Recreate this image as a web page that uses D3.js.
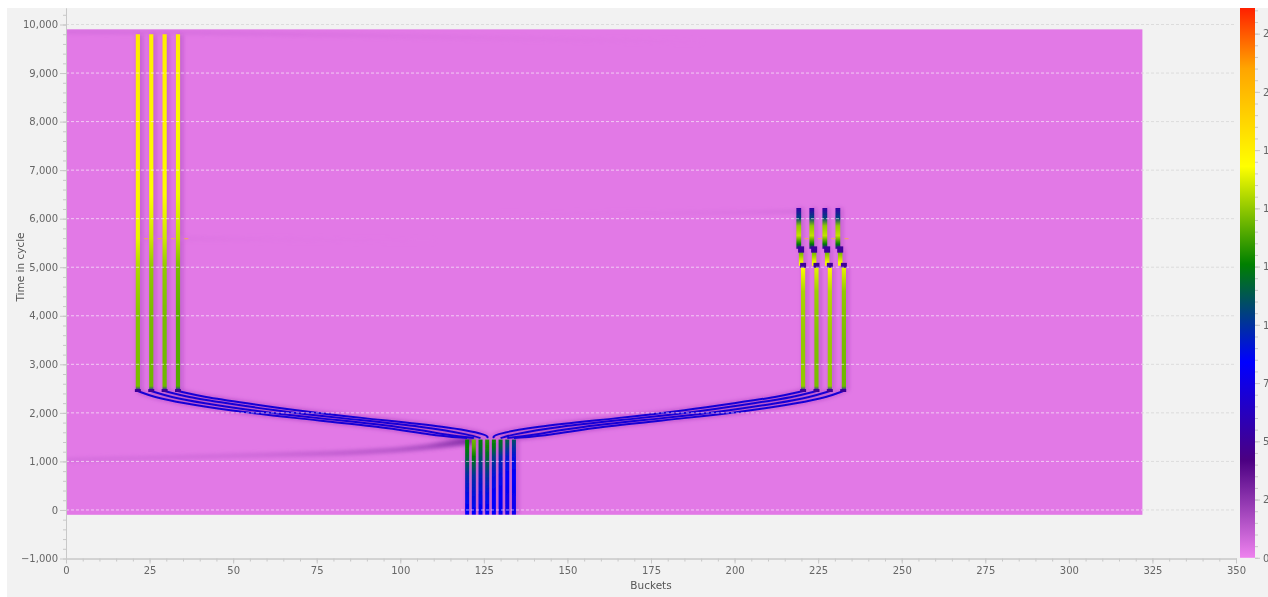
<!DOCTYPE html>
<html>
<head>
	<meta charset="utf-8">

	<!-- Load d3.js -->
	<script src="https://cdn.jsdelivr.net/npm/d3@7"></script>
	<style>
		html, body { margin: 0; padding: 0; background: #fff; overflow: hidden; }
		svg { display: block; filter: blur(0.35px); }
		text { font-family: "DejaVu Sans", sans-serif; }
	</style>
</head>
<body>

	<!-- Create a div where the graph will take place -->
	<div id="graph"></div>

<script>

// colour ramp of the bar on the right
var rampValues = [0, 42, 84, 126, 168, 210, 252];
var rampColors = ["#ee82ee", "#4b0082", "#0000ff", "#008000", "#ffff00", "#ffa500", "#ff2000"];
var backgroundValue = 3;

// extent of the heat map
var heatBuckets = [0, 322];
var heatTimes = [-100, 9900];

// bunches before the split
var centralBuckets = [120, 122, 124, 126, 128, 130, 132, 134];
var centralTimes = [-100, 300, 700, 1100, 1300, 1450];
var centralValues = [
  [84, 88, 98, 118, 126, 126],
  [84, 90, 100, 125, 140, 145],
  [84, 88, 95, 110, 120, 125],
  [84, 88, 100, 118, 128, 132],
  [82, 84, 90, 105, 122, 128],
  [80, 84, 88, 98, 115, 122],
  [78, 80, 84, 92, 105, 115],
  [78, 80, 84, 90, 100, 110]
];

// ramps from the central bunches out to the two stores
var rampTimes = [1480, 1545, 1710, 1895, 2060, 2200, 2330, 2450];
var leftRampBuckets = [
  [120, 109, 95, 68, 48, 35, 26, 21.5],
  [122, 114, 101, 74.5, 54.5, 41, 31, 25.5],
  [124, 121, 108, 81.5, 61.5, 48, 36, 29.5],
  [126, 126.5, 115, 88, 68, 54, 41, 33.5]
];
var rightRampBuckets = [
  [128, 127.5, 139, 166, 186, 200, 213, 220.5],
  [130, 133, 146, 172.5, 192.5, 206, 218, 224.5],
  [132, 140, 153, 179.5, 199.5, 213, 223, 228.5],
  [134, 145, 159, 186, 206, 219, 228, 232.5]
];
var rampValue = 70;

// left store, up to the end of the cycle
var leftBuckets = [21.5, 25.5, 29.5, 33.5];
var leftTimes = [2450, 2550, 4000, 5000, 5600, 6500, 8000, 9800];
var leftValues = [
  [70, 146, 148, 155, 165, 172, 175, 177],
  [70, 144, 146, 150, 160, 168, 172, 175],
  [70, 144, 146, 150, 160, 170, 173, 176],
  [70, 140, 141, 146, 158, 166, 171, 176]
];

// right store, three steps
var rightLowBuckets = [220.5, 224.5, 228.5, 232.7];
var rightLowTimes = [2450, 2550, 3500, 4500, 5000];
var rightLowValues = [
  [70, 150, 150, 154, 168],
  [70, 146, 147, 152, 164],
  [70, 150, 151, 156, 170],
  [70, 144, 146, 150, 164]
];
var rightMidBuckets = [219.9, 223.8, 227.7, 231.6];
var rightMidTimes = [5030, 5100, 5300, 5380];
var rightMidValues = [170, 166, 145, 70];
var rightTopBuckets = [219.2, 223.1, 227.0, 230.9];
var rightTopTimes = [5380, 5480, 5650, 5850, 6020, 6220];
var rightTopValues = [55, 125, 158, 150, 105, 55];

// darker stubs where the bunches land
var stubTimes = [[2430, 2490], [4990, 5090], [5300, 5430]];
var stubBuckets = [
  [21.5, 25.5, 29.5, 33.5, 220.5, 224.5, 228.5, 232.5],
  [220.5, 224.5, 228.5, 232.7],
  [219.9, 223.8, 227.7, 231.6]
];
var stubValue = 50;

// faint wakes in the background
var wakeBuckets = [0, 58, 88, 108, 118, 122];
var wakeCenter = [1030, 1130, 1190, 1300, 1400, 1440];
var wakeHalf = [25, 30, 38, 50, 70, 80];
var wakeValue = [9, 12, 16, 20, 26, 30];

var streakTop = { buckets: [0, 40, 100, 190], times: [9850, 9830, 9760, 9640], values: [10, 9, 6, 3] };
var streakRight = { buckets: [130, 170, 205, 220], times: [6090, 6110, 6130, 6150], values: [3, 4, 7, 10] };
var streakLeft = { buckets: [21, 36, 60, 110], times: [5590, 5590, 5575, 5540], values: [7, 6, 4, 3] };

// small pale dashes crossing both stores
var crossTime = 5590;
var crossBuckets = [24, 28, 32, 36, 221.5, 225.5, 229.5, 233.5];

// axis ticks
var bucketTicks = d3.range(0, 351, 25);
var bucketMinor = d3.range(0, 351, 5);
var timeTicks = d3.range(-1000, 10001, 1000);
var timeMinor = d3.range(-1000, 10301, 200);
var colorTicks = d3.range(0, 226, 25);
var colorMinor = d3.range(0, 236, 5);

var svg = d3.select("#graph")
  .append("svg")
    .attr("width", 1268)
    .attr("height", 597);

var defs = svg.append("defs");

var x = d3.scaleLinear().domain([0, 350]).range([66, 1236]);
var y = d3.scaleLinear().domain([-1000, 10340]).range([558.5, 8]);
var cy = d3.scaleLinear().domain([0, 236]).range([557.8, 8]);
var color = d3.scaleLinear().domain(rampValues).range(rampColors);

// soft edge for the marks
defs.append("filter").attr("id", "soft")
    .attr("filterUnits", "userSpaceOnUse")
    .attr("x", 0).attr("y", 0).attr("width", 1268).attr("height", 597)
  .append("feGaussianBlur").attr("stdDeviation", 0.5);
defs.append("filter").attr("id", "glow")
    .attr("filterUnits", "userSpaceOnUse")
    .attr("x", 0).attr("y", 0).attr("width", 1268).attr("height", 597)
  .append("feGaussianBlur").attr("stdDeviation", 2.2);
defs.append("clipPath").attr("id", "heatClip")
  .append("rect")
    .attr("x", x(heatBuckets[0]))
    .attr("y", y(heatTimes[1]))
    .attr("width", x(heatBuckets[1]) - x(heatBuckets[0]))
    .attr("height", y(heatTimes[0]) - y(heatTimes[1]));

// grey panel
svg.append("rect")
    .attr("x", 7).attr("y", 8)
    .attr("width", 1261).attr("height", 589)
    .attr("fill", "#f2f2f2");

// grid below the map
svg.append("g").selectAll("line")
  .data(timeTicks.slice(1))
  .enter().append("line")
    .attr("x1", x(0)).attr("x2", x(350))
    .attr("y1", function(d) { return y(d); })
    .attr("y2", function(d) { return y(d); })
    .attr("stroke", "#dcdcdc")
    .attr("stroke-dasharray", "3,2");

// background of the map
svg.append("rect")
    .attr("x", x(heatBuckets[0]))
    .attr("y", y(heatTimes[1]))
    .attr("width", x(heatBuckets[1]) - x(heatBuckets[0]))
    .attr("height", y(heatTimes[0]) - y(heatTimes[1]))
    .attr("fill", color(backgroundValue));

var marks = svg.append("g").attr("clip-path", "url(#heatClip)");
var halos = marks.append("g").attr("filter", "url(#glow)");
var wakes = marks.append("g").attr("filter", "url(#glow)");
var tracks = marks.append("g").attr("filter", "url(#soft)");

var gradId = 0;

// vertical gradient following the values of one track
function verticalGradient(times, values) {
  var id = "g" + (gradId++);
  var t0 = times[0], t1 = times[times.length - 1];
  var g = defs.append("linearGradient").attr("id", id)
      .attr("gradientUnits", "userSpaceOnUse")
      .attr("x1", 0).attr("x2", 0)
      .attr("y1", y(t0)).attr("y2", y(t1));
  times.forEach(function(t, i) {
    g.append("stop")
      .attr("offset", (t - t0) / (t1 - t0))
      .attr("stop-color", color(values[i]));
  });
  return "url(#" + id + ")";
}

// horizontal gradient along a wake
function horizontalGradient(buckets, values) {
  var id = "g" + (gradId++);
  var b0 = buckets[0], b1 = buckets[buckets.length - 1];
  var g = defs.append("linearGradient").attr("id", id)
      .attr("gradientUnits", "userSpaceOnUse")
      .attr("y1", 0).attr("y2", 0)
      .attr("x1", x(b0)).attr("x2", x(b1));
  buckets.forEach(function(b, i) {
    g.append("stop")
      .attr("offset", (b - b0) / (b1 - b0))
      .attr("stop-color", color(values[i]));
  });
  return "url(#" + id + ")";
}

// one straight column from bucket b between two times
function column(b, times, values, width) {
  halos.append("line")
      .attr("x1", x(b) + 2).attr("x2", x(b) + 2)
      .attr("y1", y(times[0])).attr("y2", y(times[times.length - 1]))
      .attr("stroke", color(32))
      .attr("stroke-opacity", 0.28)
      .attr("stroke-width", 6);
  tracks.append("line")
      .attr("x1", x(b)).attr("x2", x(b))
      .attr("y1", y(times[0])).attr("y2", y(times[times.length - 1]))
      .attr("stroke", verticalGradient(times, values))
      .attr("stroke-width", width);
}

centralBuckets.forEach(function(b, i) { column(b, centralTimes, centralValues[i], 4); });
leftBuckets.forEach(function(b, i) { column(b, leftTimes, leftValues[i], 4.2); });
rightLowBuckets.forEach(function(b, i) { column(b, rightLowTimes, rightLowValues[i], 4.2); });
rightMidBuckets.forEach(function(b) { column(b, rightMidTimes, rightMidValues, 4.5); });
rightTopBuckets.forEach(function(b) { column(b, rightTopTimes, rightTopValues, 4.8); });

// ramps
var rampLine = d3.line()
    .x(function(d) { return x(d[0]); })
    .y(function(d) { return y(d[1]); })
    .curve(d3.curveBasis);

leftRampBuckets.concat(rightRampBuckets).forEach(function(buckets) {
  var points = buckets.map(function(b, i) { return [b, rampTimes[i]]; });
  halos.append("path")
      .attr("d", rampLine(points))
      .attr("fill", "none")
      .attr("stroke", color(32))
      .attr("stroke-opacity", 0.3)
      .attr("stroke-width", 4);
  tracks.append("path")
      .attr("d", rampLine(points))
      .attr("fill", "none")
      .attr("stroke", color(rampValue))
      .attr("stroke-width", 2);
});

// stubs
stubTimes.forEach(function(times, i) {
  stubBuckets[i].forEach(function(b) {
    tracks.append("line")
        .attr("x1", x(b)).attr("x2", x(b))
        .attr("y1", y(times[0])).attr("y2", y(times[1]))
        .attr("stroke", color(stubValue))
        .attr("stroke-width", 6);
  });
});

// wake from the injection
var wakeArea = d3.area()
    .x(function(d) { return x(d.b); })
    .y0(function(d) { return y(d.c - d.h); })
    .y1(function(d) { return y(d.c + d.h); })
    .curve(d3.curveMonotoneX);

wakes.append("path")
    .attr("d", wakeArea(wakeBuckets.map(function(b, i) {
      return { b: b, c: wakeCenter[i], h: wakeHalf[i] };
    })))
    .attr("fill", horizontalGradient(wakeBuckets, wakeValue));

// thin streaks
[streakTop, streakRight, streakLeft].forEach(function(s) {
  var points = s.buckets.map(function(b, i) { return [b, s.times[i]]; });
  wakes.append("path")
      .attr("d", d3.line()
        .x(function(d) { return x(d[0]); })
        .y(function(d) { return y(d[1]); })
        .curve(d3.curveMonotoneX)(points))
      .attr("fill", "none")
      .attr("stroke", horizontalGradient(s.buckets, s.values))
      .attr("stroke-width", 2);
});

// grid above the map
var overGrid = svg.append("g").attr("clip-path", "url(#heatClip)");
overGrid.selectAll("line")
  .data(timeTicks.slice(1))
  .enter().append("line")
    .attr("x1", x(0)).attr("x2", x(350))
    .attr("y1", function(d) { return y(d); })
    .attr("y2", function(d) { return y(d); })
    .attr("stroke", "#ffffff")
    .attr("stroke-opacity", 0.6)
    .attr("stroke-dasharray", "3,2");

overGrid.selectAll(".cross")
  .data(crossBuckets)
  .enter().append("line")
    .attr("class", "cross")
    .attr("x1", function(d) { return x(d) - 2; })
    .attr("x2", function(d) { return x(d) + 2; })
    .attr("y1", y(crossTime)).attr("y2", y(crossTime))
    .attr("stroke", "#eda070")
    .attr("stroke-width", 1.2);

// style shared by the axes
function styleAxis(g) {
  g.selectAll(".domain").attr("stroke", "#c8c8c8");
  g.selectAll(".tick line").attr("stroke", "#c8c8c8");
  g.selectAll("text").attr("fill", "#666").attr("font-size", "10px");
}

// X axis, minor ticks first
svg.append("g")
    .attr("transform", "translate(0," + y(-1000) + ")")
    .call(d3.axisBottom(x).tickValues(bucketMinor).tickSize(3).tickSizeOuter(0).tickFormat(""))
    .call(styleAxis);
svg.append("g")
    .attr("transform", "translate(0," + y(-1000) + ")")
    .call(d3.axisBottom(x).tickValues(bucketTicks).tickSize(5).tickSizeOuter(0).tickPadding(3).tickFormat(d3.format("d")))
    .call(styleAxis);

// Y axis
svg.append("g")
    .attr("transform", "translate(" + x(0) + ",0)")
    .call(d3.axisLeft(y).tickValues(timeMinor).tickSize(3).tickSizeOuter(0).tickFormat(""))
    .call(styleAxis);
svg.append("g")
    .attr("transform", "translate(" + x(0) + ",0)")
    .call(d3.axisLeft(y).tickValues(timeTicks).tickSize(6).tickSizeOuter(0).tickPadding(2).tickFormat(d3.format(",")))
    .call(styleAxis);

// colour bar
var barGradient = defs.append("linearGradient").attr("id", "barGradient")
    .attr("gradientUnits", "userSpaceOnUse")
    .attr("x1", 0).attr("x2", 0)
    .attr("y1", cy(0)).attr("y2", cy(236));
rampValues.forEach(function(v) {
  barGradient.append("stop")
    .attr("offset", v / 236)
    .attr("stop-color", color(v));
});
svg.append("rect")
    .attr("x", 1240).attr("y", cy(236))
    .attr("width", 15).attr("height", cy(0) - cy(236))
    .attr("fill", "url(#barGradient)");

svg.append("g")
    .attr("transform", "translate(1255,0)")
    .call(d3.axisRight(cy).tickValues(colorMinor).tickSize(3).tickSizeOuter(0).tickFormat(""))
    .call(styleAxis)
    .call(function(g) { g.select(".domain").remove(); });
svg.append("g")
    .attr("transform", "translate(1255,0)")
    .call(d3.axisRight(cy).tickValues(colorTicks).tickSize(5).tickSizeOuter(0).tickPadding(3).tickFormat(d3.format("d")))
    .call(styleAxis)
    .call(function(g) { g.select(".domain").remove(); });

// axis titles
svg.append("text")
    .attr("x", x(175))
    .attr("y", 589)
    .attr("text-anchor", "middle")
    .attr("font-size", "10.5px")
    .attr("fill", "#555")
    .text("Buckets");

svg.append("text")
    .attr("transform", "translate(24,267) rotate(-90)")
    .attr("text-anchor", "middle")
    .attr("font-size", "10.5px")
    .attr("fill", "#555")
    .text("Time in cycle");

</script>
</body>
</html>
